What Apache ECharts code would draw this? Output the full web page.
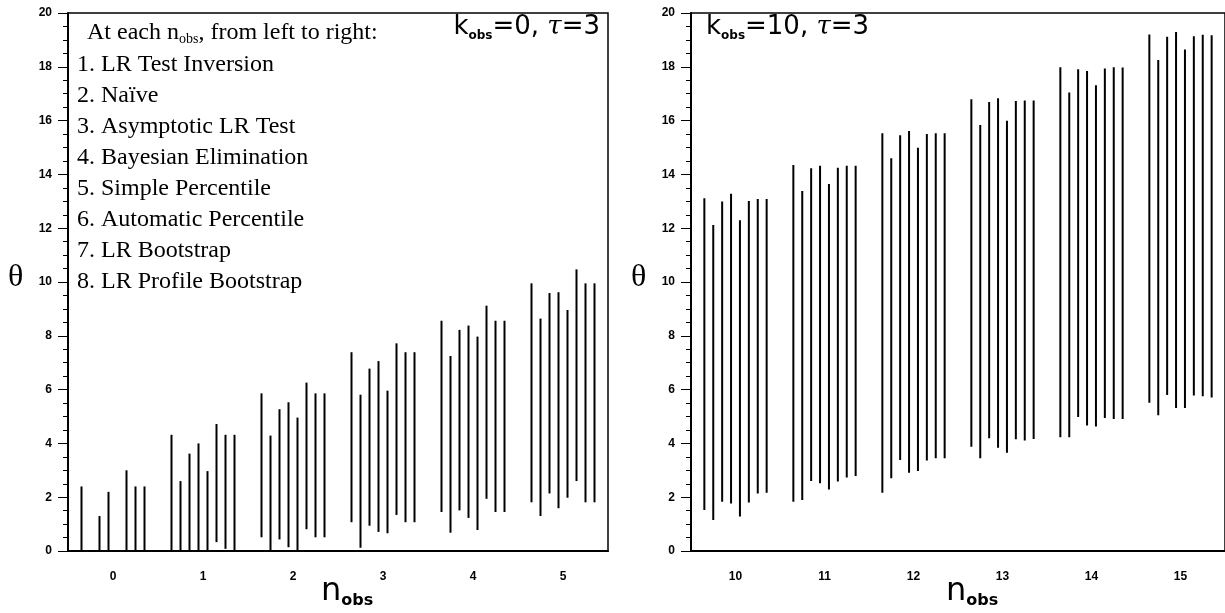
<!DOCTYPE html>
<html>
<head>
<meta charset="utf-8">
<script src="https://cdn.jsdelivr.net/npm/echarts@6/dist/echarts.min.js"></script>
<style>
  html, body { margin: 0; padding: 0; background: #fff; }
  #chart { width: 1225px; height: 613px; }
</style>
</head>
<body>
<div id="chart"></div>
<script>
// n_obs categories for the two panels
var nobsLeft = ['0', '1', '2', '3', '4', '5'];
var nobsRight = ['10', '11', '12', '13', '14', '15'];

// 8 methods per n_obs, in order: LR inversion, naive, asymptotic LR, bayesian,
// simple pct, automatic pct, LR bootstrap, LR profile bootstrap
var lowLeft = [
  [0, 0, 0, 0, 0, 0, 0, 0],
  [0, 0, 0, 0, 0, 0.33, 0.08, 0],
  [0.51, 0, 0.43, 0.14, 0, 0.81, 0.51, 0.51],
  [1.07, 0.12, 0.94, 0.71, 0.66, 1.34, 1.07, 1.07],
  [1.45, 0.68, 1.51, 1.23, 0.78, 1.94, 1.45, 1.45],
  [1.81, 1.30, 2.14, 1.59, 1.98, 2.60, 1.81, 1.81]
];
var highLeft = [
  [2.4, 0, 1.3, 2.2, 0, 3.0, 2.4, 2.4],
  [4.32, 2.6, 3.62, 4.0, 2.97, 4.72, 4.32, 4.32],
  [5.86, 4.29, 5.27, 5.53, 4.96, 6.26, 5.86, 5.86],
  [7.39, 5.81, 6.78, 7.06, 5.96, 7.72, 7.39, 7.39],
  [8.56, 7.25, 8.22, 8.38, 7.97, 9.12, 8.56, 8.56],
  [9.95, 8.64, 9.59, 9.62, 8.96, 10.47, 9.95, 9.95]
];
var lowRight = [
  [1.52, 1.15, 1.83, 1.77, 1.28, 1.80, 2.14, 2.17],
  [1.83, 1.90, 2.60, 2.52, 2.29, 2.58, 2.73, 2.79],
  [2.17, 2.70, 3.38, 2.91, 2.97, 3.36, 3.45, 3.45],
  [3.88, 3.45, 4.19, 3.84, 3.65, 4.15, 4.11, 4.16],
  [4.23, 4.23, 4.98, 4.67, 4.63, 4.94, 4.91, 4.91],
  [5.51, 5.05, 5.80, 5.32, 5.32, 5.78, 5.75, 5.71]
];
var highRight = [
  [13.11, 12.12, 12.99, 13.28, 12.30, 13.01, 13.09, 13.09],
  [14.35, 13.38, 14.23, 14.32, 13.64, 14.25, 14.32, 14.32],
  [15.53, 14.60, 15.46, 15.61, 14.99, 15.50, 15.53, 15.53],
  [16.79, 15.84, 16.69, 16.83, 15.99, 16.73, 16.75, 16.75],
  [17.98, 17.04, 17.91, 17.84, 17.31, 17.94, 17.98, 17.97],
  [19.20, 18.25, 19.12, 19.29, 18.64, 19.14, 19.19, 19.17]
];

var methods = [
  '1. LR Test Inversion',
  '2. Naïve',
  '3. Asymptotic LR Test',
  '4. Bayesian Elimination',
  '5. Simple Percentile',
  '6. Automatic Percentile',
  '7. LR Bootstrap',
  '8. LR Profile Bootstrap'
];

function toItems(low, high) {
  var out = [];
  for (var g = 0; g < low.length; g++) {
    for (var m = 0; m < low[g].length; m++) {
      out.push([g, m, low[g][m], high[g][m]]);
    }
  }
  return out;
}

function renderItem(params, api) {
  var cat = api.value(0), m = api.value(1);
  var band = api.size([1, 0])[0];
  var lo = api.coord([cat, api.value(2)]);
  var hi = api.coord([cat, api.value(3)]);
  var dx = (m - 3.5) * band * 0.1;
  return {
    type: 'line',
    shape: { x1: lo[0] + dx, y1: lo[1], x2: hi[0] + dx, y2: hi[1] },
    style: { stroke: '#000', lineWidth: 2 }
  };
}

function xAx(idx, cats) {
  return {
    type: 'category', gridIndex: idx, data: cats, boundaryGap: true,
    axisLine: { lineStyle: { color: '#000', width: 2 } },
    axisTick: { length: 10, lineStyle: { color: '#555', width: 1 } },
    axisLabel: { color: '#000', fontSize: 12, fontWeight: 'bold', fontFamily: 'Liberation Sans', margin: 20 },
    splitLine: { show: false }
  };
}
function yAx(idx) {
  return {
    type: 'value', gridIndex: idx, min: 0, max: 20, interval: 2,
    axisLine: { show: true, lineStyle: { color: '#000', width: 2 } },
    axisTick: { show: true, length: 10, lineStyle: { color: '#000', width: 1 } },
    minorTick: { show: true, splitNumber: 4, length: 5, lineStyle: { color: '#000', width: 1 } },
    axisLabel: { color: '#000', fontSize: 12, fontWeight: 'bold', fontFamily: 'Liberation Sans', margin: 16 },
    splitLine: { show: false }
  };
}

var chart = echarts.init(document.getElementById('chart'));

var serif = 'Liberation Serif';
var legendLines = [{
  type: 'text', left: 87, top: 21,
  style: {
    text: '{a|At each n}{s|obs}{a|, from left to right:}',
    rich: {
      a: { fontFamily: serif, fontSize: 24, lineHeight: 27, fill: '#000' },
      s: { fontFamily: serif, fontSize: 14, lineHeight: 10, verticalAlign: 'bottom', fill: '#000' }
    }
  }
}];
for (var i = 0; i < methods.length; i++) {
  legendLines.push({
    type: 'text', left: 77, top: 53 + i * 31,
    style: { text: methods[i], fontFamily: serif, fontSize: 24, fill: '#000' }
  });
}

var kRich = {
  k: { fontFamily: 'DejaVu Sans', fontSize: 26, lineHeight: 30, fill: '#000' },
  s: { fontFamily: 'DejaVu Sans', fontSize: 12, fontWeight: 'bold', lineHeight: 12, verticalAlign: 'bottom', fill: '#000' },
  t: { fontFamily: 'DejaVu Serif', fontSize: 26, fontStyle: 'italic', lineHeight: 30, fill: '#000' }
};
var nRich = {
  n: { fontFamily: 'DejaVu Sans', fontSize: 32, lineHeight: 34, fill: '#000' },
  s: { fontFamily: 'DejaVu Sans', fontSize: 16, fontWeight: 'bold', lineHeight: 14, verticalAlign: 'bottom', fill: '#000' }
};

var option = {
  animation: false,
  backgroundColor: '#fff',
  grid: [
    { left: 68, top: 13, width: 540, height: 538, show: true, borderColor: '#000', borderWidth: 1.5, backgroundColor: 'transparent' },
    { left: 691, top: 13, width: 539, height: 538, show: true, borderColor: '#000', borderWidth: 1.5, backgroundColor: 'transparent' }
  ],
  xAxis: [xAx(0, nobsLeft), xAx(1, nobsRight)],
  yAxis: [yAx(0), yAx(1)],
  series: [
    { type: 'custom', xAxisIndex: 0, yAxisIndex: 0, renderItem: renderItem, data: toItems(lowLeft, highLeft) },
    { type: 'custom', xAxisIndex: 1, yAxisIndex: 1, renderItem: renderItem, data: toItems(lowRight, highRight) }
  ],
  graphic: legendLines.concat([
    { type: 'text', right: 625, top: 14, style: { text: '{k|k}{s|obs}{k|=0, }{t|τ}{k|=3}', rich: kRich } },
    { type: 'text', left: 706, top: 14, style: { text: '{k|k}{s|obs}{k|=10, }{t|τ}{k|=3}', rich: kRich } },
    { type: 'text', left: 8, top: 262, style: { text: 'θ', fontFamily: serif, fontSize: 32, fill: '#000' } },
    { type: 'text', left: 631, top: 262, style: { text: 'θ', fontFamily: serif, fontSize: 32, fill: '#000' } },
    { type: 'text', left: 321, top: 576, style: { text: '{n|n}{s|obs}', rich: nRich } },
    { type: 'text', left: 946, top: 576, style: { text: '{n|n}{s|obs}', rich: nRich } }
  ])
};
chart.setOption(option);
</script>
</body>
</html>
